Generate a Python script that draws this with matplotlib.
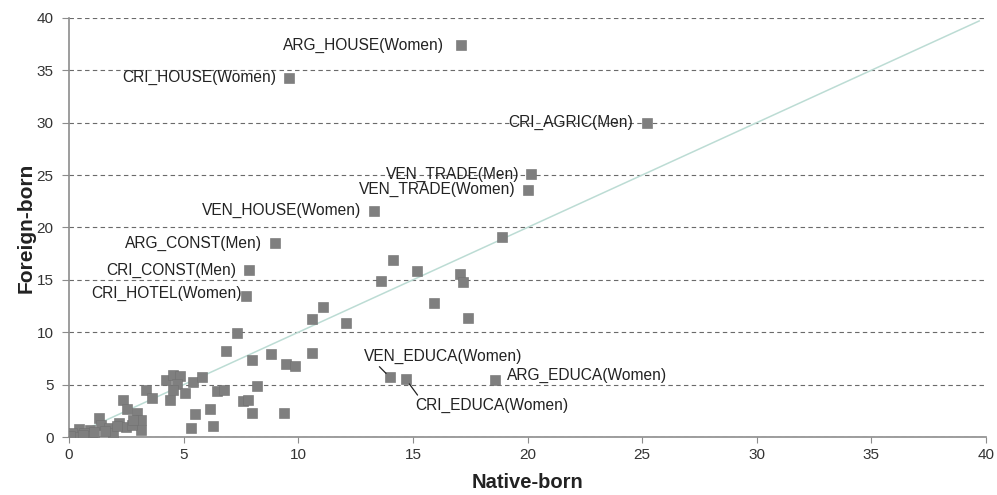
import matplotlib
matplotlib.use("Agg")
import matplotlib.pyplot as plt
from matplotlib import font_manager

# ---- data ----
labeled_names = ["ARG_HOUSE(Women)", "CRI_HOUSE(Women)", "CRI_AGRIC(Men)", "VEN_TRADE(Men)",
                 "VEN_TRADE(Women)", "VEN_HOUSE(Women)", "ARG_CONST(Men)", "CRI_CONST(Men)",
                 "CRI_HOTEL(Women)", "VEN_EDUCA(Women)", "CRI_EDUCA(Women)", "ARG_EDUCA(Women)"]
labeled_native = [17.1, 9.6, 25.2, 20.15, 20.0, 13.3, 9.0, 7.85, 7.7, 14.0, 14.7, 18.6]
labeled_foreign = [37.4, 34.3, 30.0, 25.1, 23.6, 21.6, 18.5, 15.9, 13.5, 5.7, 5.5, 5.4]

other_native = [18.9, 14.15, 15.2, 17.05, 17.2, 13.6, 15.9, 17.4, 11.1, 10.6, 12.1, 10.6,
                7.35, 6.85, 8.0, 8.8, 9.45, 9.85, 4.25, 4.55, 4.85, 4.7, 4.55, 5.05, 4.4,
                5.4, 5.8, 6.45, 6.75, 8.2, 7.6, 7.8, 8.0, 9.4, 6.15, 5.5, 6.3, 5.3,
                2.35, 2.55, 2.95, 3.35, 3.6, 1.3, 1.4, 2.2, 2.5, 3.15, 3.15, 0.9, 0.45,
                0.15, 0.3, 1.75, 0.65, 1.9, 1.0, 2.1, 2.75, 1.1, 0.05, 0.6, 1.55, 2.8]
other_foreign = [19.1, 16.9, 15.8, 15.6, 14.8, 14.9, 12.8, 11.4, 12.4, 11.3, 10.9, 8.0,
                 9.9, 8.2, 7.4, 7.9, 7.0, 6.8, 5.4, 5.9, 5.8, 5.1, 4.5, 4.2, 3.5,
                 5.3, 5.7, 4.4, 4.5, 4.9, 3.4, 3.5, 2.3, 2.3, 2.7, 2.2, 1.05, 0.9,
                 3.5, 2.7, 2.3, 4.5, 3.7, 1.8, 1.2, 1.3, 1.0, 1.6, 0.7, 0.7, 0.8,
                 0.35, 0.0, 0.9, 0.4, 0.4, 0.1, 1.1, 1.2, 0.5, 0.1, 0.2, 0.6, 1.6]

x_ticks = [0, 5, 10, 15, 20, 25, 30, 35, 40]
y_ticks = [0, 5, 10, 15, 20, 25, 30, 35, 40]
x_label = "Native-born"
y_label = "Foreign-born"

# ---- layout / style (label offsets in pixels) ----
label_layout = {
    "ARG_HOUSE(Women)": (-17, 0, "right"),
    "CRI_HOUSE(Women)": (-13, 0, "right"),
    "CRI_AGRIC(Men)": (-14, 0, "right"),
    "VEN_TRADE(Men)": (-12, 0, "right"),
    "VEN_TRADE(Women)": (-12, 0, "right"),
    "VEN_HOUSE(Women)": (-13, 0, "right"),
    "ARG_CONST(Men)": (-13, 0, "right"),
    "CRI_CONST(Men)": (-13, 0, "right"),
    "CRI_HOTEL(Women)": (-4, 2, "right"),
    "ARG_EDUCA(Women)": (12, 5, "left"),
}

avail = {f.name for f in font_manager.fontManager.ttflist}
base_font = "Liberation Sans" if "Liberation Sans" in avail else "DejaVu Sans"
narrow_font = "Liberation Sans Narrow" if "Liberation Sans Narrow" in avail else base_font
plt.rcParams["font.family"] = [base_font, "DejaVu Sans"]

fig = plt.figure(figsize=(9.97, 4.95), dpi=100)
ax = fig.add_axes([0.0692, 0.117, 0.9198, 0.847])

ax.set_xlim(0, 40)
ax.set_ylim(0, 40)

# diagonal reference line
ax.plot([0.5, 39.7], [0.5, 39.7], color="#bcdcd4", lw=1.1, zorder=2)

mk = dict(marker="s", linestyle="none", ms=7.6, color="#7f7f7f", mec="#707070", mew=0.4, zorder=3)
ax.plot(other_native, other_foreign, **mk)
ax.plot(labeled_native, labeled_foreign, **mk)

LFS = 11.2
for name, xv, yv in zip(labeled_names, labeled_native, labeled_foreign):
    if name in label_layout:
        dx, dy, ha = label_layout[name]
        ax.annotate(name, (xv, yv), xytext=(dx, dy), textcoords="offset pixels",
                    ha=ha, va="center", fontsize=LFS, color="#222222", zorder=4)

# leader-line labels
i = labeled_names.index("VEN_EDUCA(Women)")
ax.annotate("VEN_EDUCA(Women)", (labeled_native[i], labeled_foreign[i]), xytext=(-26, 21),
            textcoords="offset pixels", ha="left", va="center", fontsize=LFS, color="#222222",
            arrowprops=dict(arrowstyle="-", color="#222222", lw=0.9, shrinkA=0, shrinkB=4,
                            relpos=(0.08, 0.0)), zorder=4)
i = labeled_names.index("CRI_EDUCA(Women)")
ax.annotate("CRI_EDUCA(Women)", (labeled_native[i], labeled_foreign[i]), xytext=(9, -26),
            textcoords="offset pixels", ha="left", va="center", fontsize=LFS, color="#222222",
            arrowprops=dict(arrowstyle="-", color="#222222", lw=0.9, shrinkA=0, shrinkB=4,
                            relpos=(0.03, 1.0)), zorder=4)

# axes styling
ax.set_xticks(x_ticks)
ax.set_yticks(y_ticks)
ax.set_xticklabels([str(t) for t in x_ticks], fontfamily=narrow_font, fontsize=11, color="#333333")
ax.set_yticklabels([str(t) for t in y_ticks], fontsize=11, color="#333333")
for s in ["top", "right"]:
    ax.spines[s].set_visible(False)
for s in ["left", "bottom"]:
    ax.spines[s].set_color("#8c8c8c")
    ax.spines[s].set_linewidth(1.2)
ax.tick_params(axis="x", length=4, color="#8c8c8c", pad=4)
ax.tick_params(axis="y", length=5, color="#8c8c8c", pad=6)
ax.yaxis.grid(True, linestyle=(0, (4, 3)), color="#6a6a6a", lw=0.8)
ax.set_axisbelow(True)

ax.set_xlabel(x_label, fontsize=14.5, fontweight="bold", color="#222222", labelpad=8,
              fontfamily=narrow_font)
ax.set_ylabel(y_label, fontsize=15, fontweight="bold", color="#222222", labelpad=1)

fig.savefig("out.png", dpi=100, facecolor="white")
